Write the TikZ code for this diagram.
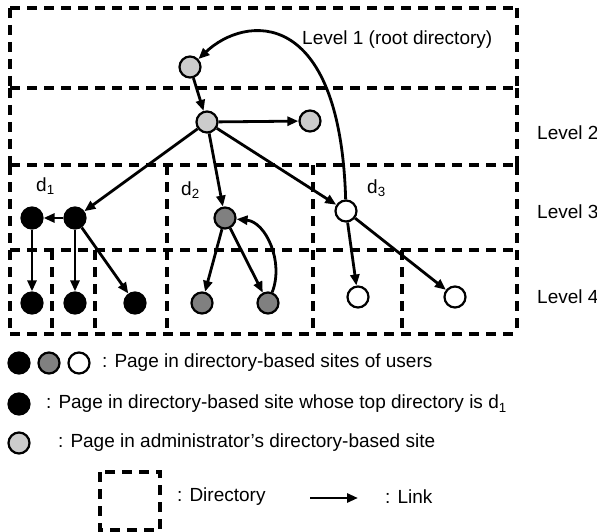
\documentclass[tikz,border=0pt]{standalone}
\usepackage{fontspec}
\setmainfont{Liberation Sans}
\usetikzlibrary{arrows.meta}
\tikzset{
  page/.style={circle, draw, line width=2.2pt, minimum size=21pt, inner sep=0pt},
  adminpage/.style={page, fill=black!20},
  hatchpage/.style={page, fill=black!50},
  blackpage/.style={page, fill=black},
  whitepage/.style={page, fill=white},
  dirline/.style={line width=3.3pt, dash pattern=on 10pt off 7pt},
  link/.style={line width=2.8pt, -{Triangle[length=11pt,width=9pt]}},
  lbl/.style={anchor=west, inner sep=0pt, font=\fontsize{19}{21}\selectfont},
}
\begin{document}
\begin{tikzpicture}[x=1pt,y=-1pt]
\useasboundingbox (0,0) rectangle (597,532);

% directory boxes
\foreach \y in {8,88,165,250,334}
  \draw[dirline] (10,\y) -- (517,\y);
\foreach \a/\b in {8/88,88/165,165/250,250/334} {
  \draw[dirline] (10,\a) -- (10,\b);
  \draw[dirline] (517,\a) -- (517,\b);
}
\foreach \x in {167,313} {
  \draw[dirline] (\x,165) -- (\x,250);
  \draw[dirline] (\x,250) -- (\x,334);
}
\foreach \x in {52,95,402}
  \draw[dirline] (\x,250) -- (\x,334);

% level labels
\node[lbl] (l1) at (302,40) {Level 1 (root directory)};
\node[lbl] (l2) at (537,133) {Level 2};
\node[lbl] (l3) at (537,212) {Level 3};
\node[lbl] (l4) at (537,297) {Level 4};
\node[lbl] (d1) at (36,186) {d\textsubscript{1}};
\node[lbl] (d2) at (181,190) {d\textsubscript{2}};
\node[lbl] (d3) at (367,188) {d\textsubscript{3}};

% pages
\node[adminpage] (r1) at (190,67) {};
\node[adminpage] (r2) at (207,122) {};
\node[adminpage] (r3) at (310,121) {};
\node[blackpage] (bA) at (32,218) {};
\node[blackpage] (bB) at (75,218) {};
\node[hatchpage] (h1) at (225,218) {};
\node[whitepage] (w0) at (346,211) {};
\node[blackpage] (bC) at (32,303) {};
\node[blackpage] (bD) at (75,303) {};
\node[blackpage] (bE) at (135,303) {};
\node[hatchpage] (h2) at (202,303) {};
\node[hatchpage] (h3) at (268,303) {};
\node[whitepage] (w1) at (358,297) {};
\node[whitepage] (w2) at (455,297) {};

% links
\draw[link] (r1) -- (r2);
\draw[link] (r2) -- (r3);
\draw[link] (r2) -- (bB);
\draw[link] (r2) -- (h1);
\draw[link] (r2) -- (w0);
\draw[link] (bB) -- (bA);
\draw[link] (bA) -- (bC);
\draw[link] (bB) -- (bD);
\draw[link] (bB) -- (bE);
\draw[link] (h1) -- (h2);
\draw[link] (h1) -- (h3);
\draw[link] (h3) .. controls (284,262) and (266,222) .. (h1);
\draw[link] (w0) -- (w1);
\draw[link] (w0) -- (w2);
\draw[link] (w0) .. controls (340,5) and (245,15) .. (r1);

% legend
\node[blackpage] (k1) at (19,363) {};
\node[hatchpage] (k2) at (49,363) {};
\node[whitepage] (k3) at (79,363) {};
\node[lbl] (t1) at (102,363) {: Page in directory-based sites of users};
\node[blackpage] (k4) at (19,404) {};
\node[lbl] (t2) at (46,404) {: Page in directory-based site whose top directory is d\textsubscript{1}};
\node[adminpage] (k5) at (19,443) {};
\node[lbl] (t3) at (58,443) {: Page in administrator’s directory-based site};
\draw[dirline] (100,472) rectangle (160,530);
\node[lbl] (t4) at (177,497) {: Directory};
\coordinate (la) at (310,498);
\coordinate (lb) at (358,498);
\draw[link] (la) -- (lb);
\node[lbl] (t5) at (385,497) {: Link};
\end{tikzpicture}
\end{document}
